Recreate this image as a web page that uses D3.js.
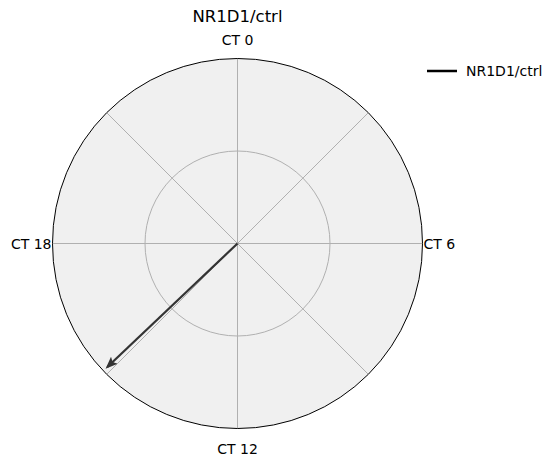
<!DOCTYPE html>
<html><head><meta charset="utf-8">
<script src="https://cdn.jsdelivr.net/npm/d3@7"></script>
<style>body{margin:0;background:#fff;}text{font-family:"DejaVu Sans",sans-serif;}</style>
</head><body><div id="chart"></div>
<script>
const title = "NR1D1/ctrl";
const seriesName = "NR1D1/ctrl";
const phaseCT = [15.1];      // arrow angle in circadian time (hours)
const amplitude = [0.97];    // arrow length relative to outer radius
const tickCT = [0, 6, 12, 18];
const tickLabels = ["CT 0", "CT 6", "CT 12", "CT 18"];
const gridCT = [0, 3, 6, 9, 12, 15, 18, 21];
const radialGrid = [0.5];

const W = 557, H = 465, cx = 237.5, cy = 243.5, R = 185;
const svg = d3.select("#chart").append("svg").attr("width", W).attr("height", H);
const ang = d3.scaleLinear().domain([0, 24]).range([0, 2 * Math.PI]);
const rad = d3.scaleLinear().domain([0, 1]).range([0, R]);
const g = svg.append("g").attr("transform", `translate(${cx},${cy})`);
const px = (ct, r) => rad(r) * Math.sin(ang(ct));
const py = (ct, r) => -rad(r) * Math.cos(ang(ct));

g.append("circle").attr("r", R).attr("fill", "#f0f0f0");
g.selectAll(".rg").data(radialGrid).enter().append("circle")
  .attr("r", d => rad(d)).attr("fill", "none").attr("stroke", "#b0b0b0").attr("stroke-width", 1);
g.selectAll(".ag").data(gridCT).enter().append("line")
  .attr("x1", 0).attr("y1", 0).attr("x2", d => px(d, 1)).attr("y2", d => py(d, 1))
  .attr("stroke", "#b0b0b0").attr("stroke-width", 1);
g.append("circle").attr("r", R).attr("fill", "none").attr("stroke", "#000").attr("stroke-width", 1);

// tick labels
const lab = [
  {dx: 0, dy: -199, anchor: "middle"},
  {dx: 186, dy: 5, anchor: "start"},
  {dx: 0, dy: 210, anchor: "middle"},
  {dx: -186, dy: 5, anchor: "end"}
];
g.selectAll(".tl").data(tickCT).enter().append("text")
  .attr("x", (d, i) => lab[i].dx).attr("y", (d, i) => lab[i].dy)
  .attr("text-anchor", (d, i) => lab[i].anchor)
  .attr("font-size", 14).attr("fill", "#000").text((d, i) => tickLabels[i]);

// arrow
svg.append("defs").append("marker").attr("id", "ah").attr("viewBox", "0 0 10 10")
  .attr("refX", 8).attr("refY", 5).attr("markerWidth", 5.5).attr("markerHeight", 5.5)
  .attr("orient", "auto").attr("markerUnits", "strokeWidth")
  .append("path").attr("d", "M0,1 L10,5 L0,9 L2,5 Z").attr("fill", "#333");
g.selectAll(".arr").data(phaseCT).enter().append("line")
  .attr("x1", 0).attr("y1", 0)
  .attr("x2", (d, i) => px(d, amplitude[i])).attr("y2", (d, i) => py(d, amplitude[i]))
  .attr("stroke", "#333").attr("stroke-width", 2.2).attr("marker-end", "url(#ah)");

// title
svg.append("text").attr("x", cx).attr("y", 22).attr("text-anchor", "middle")
  .attr("font-size", 16.5).text(title);

// legend
svg.append("line").attr("x1", 427).attr("x2", 457).attr("y1", 71).attr("y2", 71)
  .attr("stroke", "#000").attr("stroke-width", 2.5);
svg.append("text").attr("x", 466).attr("y", 76).attr("font-size", 14).text(seriesName);
</script></body></html>
